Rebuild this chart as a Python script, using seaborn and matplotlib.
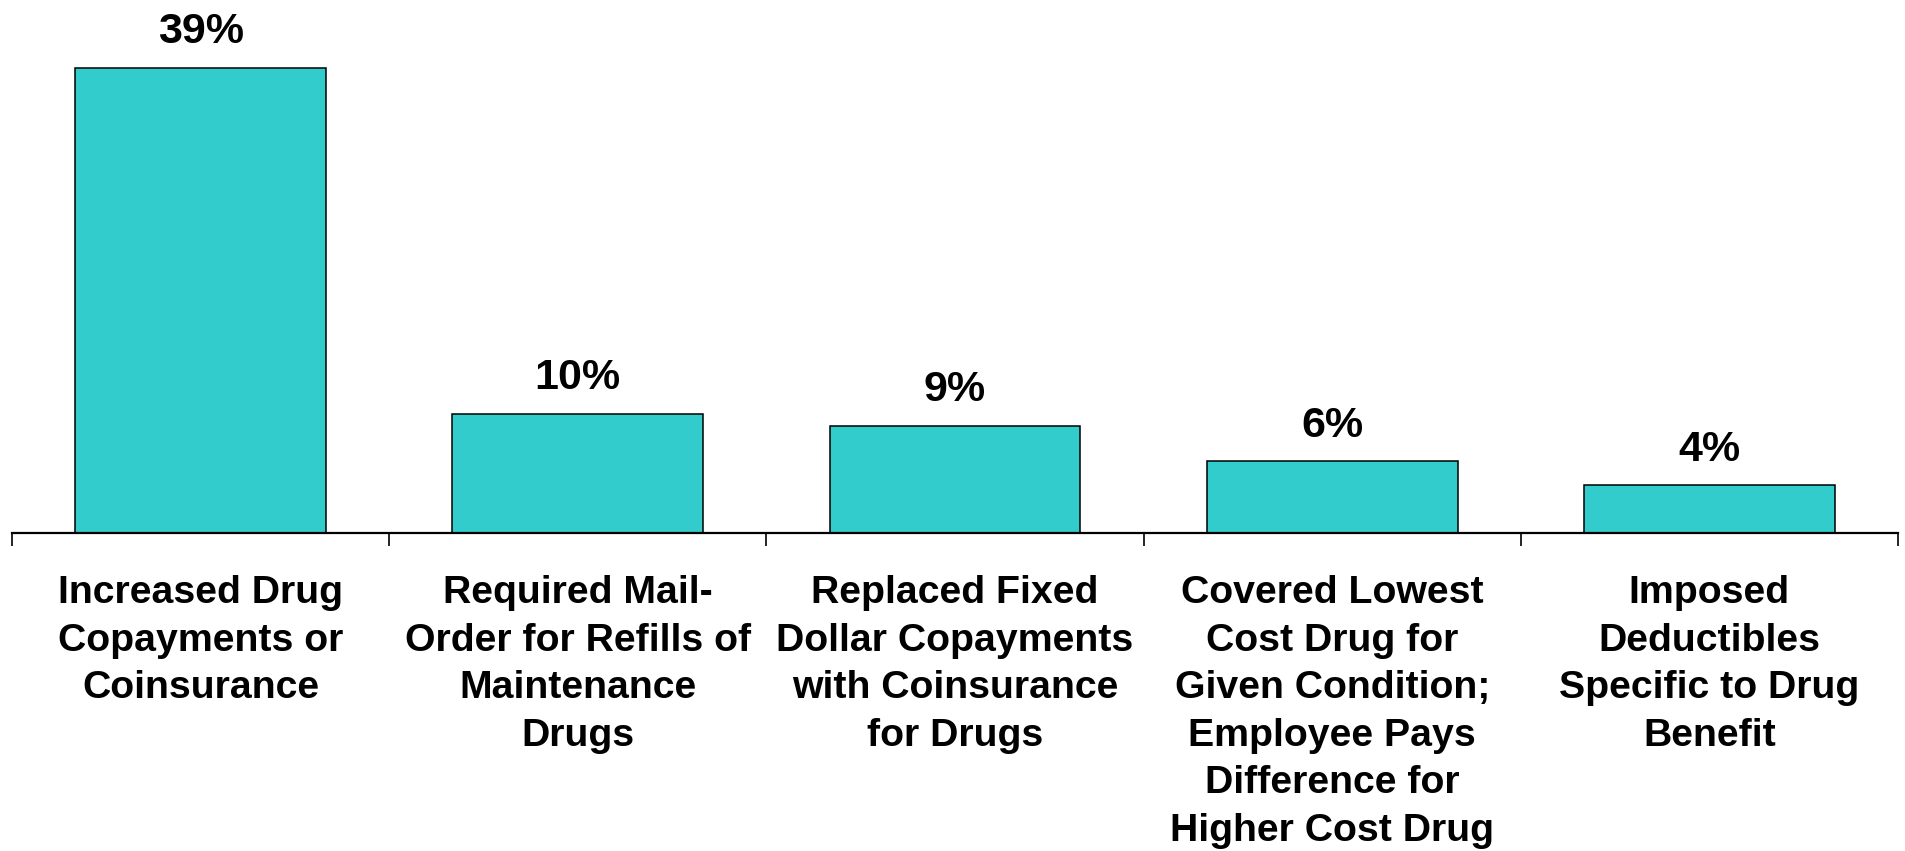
import matplotlib
matplotlib.use("Agg")
import matplotlib.pyplot as plt
import seaborn as sns
import pandas as pd

categories = [
    "Increased Drug\nCopayments or\nCoinsurance",
    "Required Mail-\nOrder for Refills of\nMaintenance\nDrugs",
    "Replaced Fixed\nDollar Copayments\nwith Coinsurance\nfor Drugs",
    "Covered Lowest\nCost Drug for\nGiven Condition;\nEmployee Pays\nDifference for\nHigher Cost Drug",
    "Imposed\nDeductibles\nSpecific to Drug\nBenefit",
]
values = [39, 10, 9, 6, 4]
value_labels = ["39%", "10%", "9%", "6%", "4%"]

sns.set_theme(style="white")
plt.rcParams["font.family"] = ["Liberation Sans", "DejaVu Sans"]

df = pd.DataFrame({"category": categories, "value": values})

fig = plt.figure(figsize=(19.06, 8.51), dpi=100)
ax = fig.add_axes([12 / 1906, 318 / 851, 1886 / 1906, 533 / 851])

sns.barplot(data=df, x="category", y="value", color="#33CCCC", saturation=1,
            width=0.665, edgecolor="black", linewidth=1.1, ax=ax)

ax.set_xlim(-0.5, len(categories) - 0.5)
ax.set_ylim(0, 44.67)

for i, (v, lab) in enumerate(zip(values, value_labels)):
    ax.annotate(lab, (i, v), xytext=(0, 17.5), textcoords="offset points",
                ha="center", va="baseline", fontsize=31, fontweight="bold",
                color="black")

for s in ["top", "left", "right"]:
    ax.spines[s].set_visible(False)
ax.spines["bottom"].set_color("black")
ax.spines["bottom"].set_linewidth(1.6)

ax.set_yticks([])
ax.set_xlabel("")
ax.set_ylabel("")
ax.set_xticks(range(len(categories)))
ax.set_xticklabels(categories, fontsize=28.3, fontweight="bold",
                   linespacing=1.41, va="top", color="black")
ax.set_xticks([i - 0.5 for i in range(len(categories) + 1)], minor=True)
ax.tick_params(axis="x", which="major", length=0, pad=30.5)
ax.tick_params(axis="x", which="minor", length=9, width=1.2,
               color="black", direction="out", bottom=True)

fig.savefig("out.png", dpi=100, facecolor="white")
